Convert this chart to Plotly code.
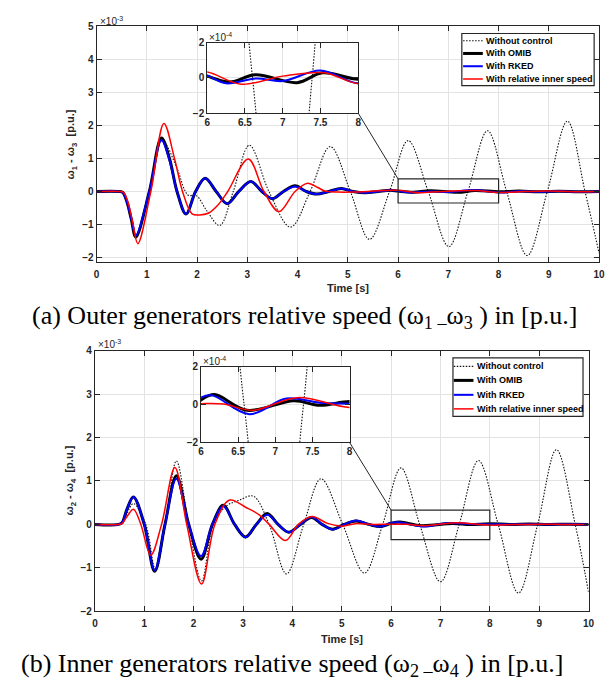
import plotly.graph_objects as go

W, H = 610, 691

# ---------------- (a) omega1 - omega3, values in 1e-3 p.u. ----------------
ta_nc = [0, 0.45, 0.52, 0.6, 0.69, 0.78, 1.04, 1.3, 1.6, 1.75, 1.83, 1.98, 2.2, 2.45, 2.72, 3.04, 3.43, 3.86,
         4.25, 4.65, 5.05, 5.43, 5.83, 6.2, 6.6, 7.01, 7.39, 7.78, 8.16, 8.57, 8.97, 9.37, 9.72, 10]
ya_nc = [0, 0, -0.03, -0.3, -0.82, -1.36, 0, 1.55, 0.7, 0.05, -0.12, -0.12, -0.6, -1.03, 0, 1.40, 0, -1.08,
         0, 1.36, 0, -1.45, 0, 1.54, 0, -1.67, 0, 1.84, 0, -1.94, 0, 2.13, 0, -1.87]

ta_omib = [0, 0.45, 0.52, 0.6, 0.69, 0.78, 1.05, 1.29, 1.45, 1.6, 1.78, 1.97, 2.16, 2.38, 2.6, 2.83, 3.07, 3.29,
           3.5, 3.72, 3.95, 4.17, 4.38, 4.62, 4.87, 5.1, 5.35, 5.6, 5.85, 6.0, 6.3, 6.64, 7.19, 7.53, 8.0, 8.4,
           8.8, 9.2, 9.6, 10]
ya_omib = [0, 0, -0.03, -0.3, -0.84, -1.38, 0, 1.62, 1.0, 0, -0.68, 0, 0.40, 0, -0.37, 0, 0.30, 0,
           -0.22, 0, 0.17, 0, -0.08, 0, 0.09, 0, -0.04, 0, 0.035, 0.01, -0.023, 0.018, -0.027, 0.029, -0.008, 0.012,
           -0.01, 0.008, -0.005, 0]

ta_rked = [0, 0.45, 0.52, 0.6, 0.69, 0.78, 1.05, 1.29, 1.45, 1.6, 1.78, 1.97, 2.16, 2.38, 2.6, 2.83, 3.07, 3.29,
           3.5, 3.72, 3.95, 4.17, 4.38, 4.62, 4.87, 5.1, 5.35, 5.6, 5.85, 6.0, 6.25, 6.65, 7.0, 7.5, 8.0, 8.4,
           8.8, 9.2, 9.6, 10]
ya_rked = [0, 0, -0.03, -0.3, -0.82, -1.33, 0, 1.55, 0.95, 0, -0.68, 0, 0.40, 0, -0.37, 0, 0.30, 0,
           -0.22, 0, 0.15, 0, -0.08, 0, 0.09, 0, -0.04, 0, 0.04, 0.014, -0.031, -0.003, -0.018, 0.042, -0.031, 0.005,
           -0.01, 0.008, -0.005, 0]

ta_rel = [0, 0.47, 0.54, 0.63, 0.72, 0.82, 1.08, 1.34, 1.55, 1.71, 1.9, 2.05, 2.22, 2.42, 2.61, 3.02, 3.33, 3.63,
          3.95, 4.2, 4.4, 4.55, 4.8, 5.1, 5.4, 5.7, 6.0, 6.45, 7.0, 7.55, 8.0, 8.4, 8.8, 9.2, 9.6, 10]
ya_rel = [0, 0, -0.03, -0.35, -0.95, -1.58, 0, 2.06, 1.0, 0, -0.68, -0.71, -0.66, -0.4, 0, 0.98, 0, -0.61,
          0, 0.25, 0.12, 0.01, -0.02, -0.02, 0.0, 0.03, 0.033, -0.036, 0.01, 0.029, -0.033, -0.01, 0.01, 0.01, -0.005, 0]

# ---------------- (b) omega2 - omega4, values in 1e-3 p.u. ----------------
tb_nc = [0, 0.48, 0.55, 0.65, 0.78, 1.03, 1.23, 1.43, 1.65, 1.9, 2.16, 2.4, 2.66, 2.93, 3.21, 3.53, 3.88, 4.23,
         4.58, 5.02, 5.46, 5.83, 6.2, 6.58, 7.0, 7.38, 7.77, 8.17, 8.58, 8.97, 9.35, 9.73, 10]
yb_nc = [0, 0, 0.03, 0.25, 0.48, 0, -1.05, 0, 1.46, 0, -1.30, 0, 0.42, 0.56, 0.65, 0, -1.14, 0,
         1.05, 0, -1.12, 0, 1.30, 0, -1.32, 0, 1.47, 0, -1.58, 0, 1.72, 0, -1.56]

tb_omib = [0, 0.48, 0.55, 0.65, 0.78, 1.0, 1.21, 1.42, 1.65, 1.9, 2.15, 2.38, 2.6, 2.83, 3.05, 3.27, 3.49, 3.71,
           3.93, 4.16, 4.39, 4.6, 4.82, 5.05, 5.29, 5.55, 5.79, 6.0, 6.18, 6.62, 7.25, 7.6, 8.0, 8.4, 8.8, 9.2,
           9.6, 10]
yb_omib = [0, 0, 0.04, 0.35, 0.63, 0, -1.08, 0, 1.12, 0, -0.80, 0, 0.44, 0, -0.29, 0, 0.25, 0,
           -0.18, 0, 0.16, 0, -0.11, 0, 0.08, 0, -0.05, 0.025, 0.053, -0.030, 0.021, -0.004, 0.016, 0.0, 0.008, 0.0,
           0.005, 0]

tb_rked = [0, 0.48, 0.55, 0.65, 0.78, 1.0, 1.21, 1.42, 1.65, 1.9, 2.15, 2.38, 2.6, 2.83, 3.05, 3.27, 3.49, 3.71,
           3.93, 4.16, 4.39, 4.6, 4.82, 5.05, 5.29, 5.55, 5.79, 6.0, 6.15, 6.65, 7.15, 7.6, 8.0, 8.4, 8.8, 9.2,
           9.6, 10]
yb_rked = [0, 0, 0.04, 0.35, 0.63, 0, -1.06, 0, 1.05, 0, -0.73, 0, 0.42, 0, -0.30, 0, 0.22, 0,
           -0.18, 0, 0.17, 0, -0.12, 0, 0.09, 0, -0.05, 0.037, 0.049, -0.051, 0.032, 0.01, 0.005, 0.0, 0.006, 0.0,
           0.004, 0]

tb_rel = [0, 0.48, 0.55, 0.65, 0.78, 0.93, 1.13, 1.35, 1.62, 1.86, 2.16, 2.43, 2.73, 3.06, 3.33, 3.53, 3.86, 4.12,
          4.4, 4.7, 5.0, 5.3, 5.6, 6.0, 6.3, 6.7, 7.3, 8.0, 8.5, 9.0, 9.5, 10]
yb_rel = [0, 0, 0.02, 0.18, 0.35, 0, -0.71, 0, 1.31, 0, -1.37, 0, 0.56, 0.39, 0.22, 0, -0.37, 0,
          0.18, 0.03, -0.04, 0.02, 0.0, 0.005, 0.003, -0.03, 0.037, -0.016, -0.005, 0.005, 0.0, 0]

series_names = ["Without control", "With OMIB", "With RKED", "With relative inner speed"]
x_ticks = [0, 1, 2, 3, 4, 5, 6, 7, 8, 9, 10]
inset_x_ticks = [6, 6.5, 7, 7.5, 8]
inset_x_labels = ["6", "6.5", "7", "7.5", "8"]

# ---------------- styling ----------------
styles = [
    dict(color="#111111", width=1.1, dash="1.5px,1.5px"),
    dict(color="#000000", width=3),
    dict(color="#0000ff", width=2),
    dict(color="#ff0000", width=1.5),
]
AXC = "#262626"
GRID = "#e3e3e3"
FONT = "Liberation Sans"


def px(x):
    return x / W


def py(y):
    return 1 - y / H


dom = {
    "a": dict(x=[px(95), px(605)], y=[py(261), py(20.7)]),
    "ai": dict(x=[px(207.3), px(360.5)], y=[py(109), py(37.3)]),
    "b": dict(x=[px(93.3), px(594.3)], y=[py(616), py(350.7)]),
    "bi": dict(x=[px(201), px(351.7)], y=[py(444), py(367.3)]),
}
yr_a = [-2.15, 5]
yr_b = [-2, 4]

fig = go.Figure()

data_a = [(ta_nc, ya_nc), (ta_omib, ya_omib), (ta_rked, ya_rked), (ta_rel, ya_rel)]
data_b = [(tb_nc, yb_nc), (tb_omib, yb_omib), (tb_rked, yb_rked), (tb_rel, yb_rel)]

for (t, y), st, nm in zip(data_a, styles, series_names):
    fig.add_trace(go.Scatter(x=t, y=y, mode="lines", line=dict(shape="spline", smoothing=1, **st),
                             name=nm, showlegend=False, xaxis="x", yaxis="y"))
for (t, y), st, nm in zip(data_b, styles, series_names):
    fig.add_trace(go.Scatter(x=t, y=y, mode="lines", line=dict(shape="spline", smoothing=1, **st),
                             name=nm, showlegend=False, xaxis="x2", yaxis="y2"))
for (t, y), st, nm in zip(data_a, styles, series_names):
    fig.add_trace(go.Scatter(x=t, y=[v * 10 for v in y], mode="lines",
                             line=dict(shape="spline", smoothing=1, **st),
                             name=nm, showlegend=False, xaxis="x3", yaxis="y3"))
for (t, y), st, nm in zip(data_b, styles, series_names):
    fig.add_trace(go.Scatter(x=t, y=[v * 10 for v in y], mode="lines",
                             line=dict(shape="spline", smoothing=1, **st),
                             name=nm, showlegend=False, xaxis="x4", yaxis="y4"))


def ax(domain, rng, tickvals, ticktext=None, anchor=None, standoff=None):
    d = dict(domain=domain, range=rng, tickvals=tickvals, showgrid=True, gridcolor=GRID, gridwidth=1,
             zeroline=False, showline=True, linecolor=AXC, linewidth=1, mirror="ticks", ticks="inside",
             ticklen=5, tickcolor=AXC, tickfont=dict(family=FONT, size=10, color=AXC, weight="bold"),
             anchor=anchor, fixedrange=True)
    if ticktext is not None:
        d["ticktext"] = ticktext
    if standoff is not None:
        d["ticklabelstandoff"] = standoff
    return d


fig.update_layout(
    xaxis=ax(dom["a"]["x"], [0, 10], x_ticks, anchor="y", standoff=3),
    yaxis=ax(dom["a"]["y"], yr_a, [-2, -1, 0, 1, 2, 3, 4, 5], anchor="x"),
    xaxis2=ax(dom["b"]["x"], [0, 10], x_ticks, anchor="y2", standoff=3),
    yaxis2=ax(dom["b"]["y"], yr_b, [-2, -1, 0, 1, 2, 3, 4], anchor="x2"),
    xaxis3=ax(dom["ai"]["x"], [6, 8], inset_x_ticks, inset_x_labels, anchor="y3"),
    yaxis3=ax(dom["ai"]["y"], [-2, 2], [-2, 0, 2], anchor="x3"),
    xaxis4=ax(dom["bi"]["x"], [6, 8], inset_x_ticks, inset_x_labels, anchor="y4"),
    yaxis4=ax(dom["bi"]["y"], [-2, 2], [-2, 0, 2], anchor="x4"),
)


def data_to_paper(d, yr, xv, yv):
    xd, yd = d["x"], d["y"]
    return (xd[0] + (xv - 0) / 10 * (xd[1] - xd[0]),
            yd[0] + (yv - yr[0]) / (yr[1] - yr[0]) * (yd[1] - yd[0]))


shapes = []
annotations = []

# zoom rectangles and connector lines
for key, ikey, xr, yr, ybox in [("a", "ai", "x", "y", (-0.35, 0.38)), ("b", "bi", "x2", "y2", (-0.35, 0.33))]:
    shapes.append(dict(type="rect", xref=xr, yref=yr, x0=6, x1=8, y0=ybox[0], y1=ybox[1],
                       line=dict(color=AXC, width=1.2), layer="above"))
    yrng = yr_a if key == "a" else yr_b
    cx, cy = data_to_paper(dom[key], yrng, 6, ybox[1])
    shapes.append(dict(type="line", xref="paper", yref="paper", x0=dom[ikey]["x"][1], y0=dom[ikey]["y"][0],
                       x1=cx, y1=cy, line=dict(color=AXC, width=1), layer="above"))

# manual legends
legend_specs = [
    dict(box=(465.7, 28, 600, 81), rows=[35.3, 48.3, 61.3, 74.3], lx=(467, 487), tx=488.5),
    dict(box=(456.7, 358, 588.7, 417.7), rows=[366.7, 381, 395.7, 410], lx=(457.5, 477.5), tx=479),
]
for spec in legend_specs:
    x0, y0, x1, y1 = spec["box"]
    shapes.append(dict(type="rect", xref="paper", yref="paper", x0=px(x0), x1=px(x1), y0=py(y1), y1=py(y0),
                       line=dict(color=AXC, width=1.2), fillcolor="white", layer="above"))
    for yy, st, nm in zip(spec["rows"], styles, series_names):
        shapes.append(dict(type="line", xref="paper", yref="paper", x0=px(spec["lx"][0]), x1=px(spec["lx"][1]),
                           y0=py(yy), y1=py(yy), line=dict(color=st["color"], width=st["width"],
                                                           dash=st.get("dash", "solid")), layer="above"))
        annotations.append(dict(xref="paper", yref="paper", x=px(spec["tx"]), y=py(yy), xanchor="left",
                                yanchor="middle", text=nm, showarrow=False,
                                font=dict(family=FONT, size=9, color="#000000", weight="bold")))

# exponent labels
for x, y, txt in [(96, 15, "×10<sup>-3</sup>"), (207, 32, "×10<sup>-4</sup>"),
                  (94, 344, "×10<sup>-3</sup>"), (201, 361, "×10<sup>-4</sup>")]:
    annotations.append(dict(xref="paper", yref="paper", x=px(x), y=py(y), xanchor="left", yanchor="middle",
                            text=txt, showarrow=False, font=dict(family=FONT, size=10, color=AXC)))

# axis titles
for x, y, txt in [(350, 287, "Time [s]"), (344, 644, "Time [s]")]:
    annotations.append(dict(xref="paper", yref="paper", x=px(x), y=py(y), xanchor="center", yanchor="middle",
                            text=txt, showarrow=False, font=dict(family=FONT, size=11, color=AXC, weight="bold")))
for x, y, txt in [(69, 141, "ω<sub>1</sub> - ω<sub>3</sub>  [p.u.]"), (68, 483, "ω<sub>2</sub> - ω<sub>4</sub>  [p.u.]")]:
    annotations.append(dict(xref="paper", yref="paper", x=px(x), y=py(y), xanchor="center", yanchor="middle",
                            text=txt, textangle=-90, showarrow=False,
                            font=dict(family=FONT, size=11, color=AXC, weight="bold")))

# captions
for x, y, txt in [(306, 316, "(a) Outer generators relative speed (ω<sub>1 –</sub>ω<sub>3</sub> ) in [p.u.]"),
                  (294, 671, "(b) Inner generators relative speed (ω<sub>2 –</sub>ω<sub>4</sub> ) in [p.u.]")]:
    annotations.append(dict(xref="paper", yref="paper", x=px(x), y=py(y), xanchor="center", yanchor="middle",
                            text=txt, showarrow=False, font=dict(family="Liberation Serif", size=26, color="#000000")))

fig.update_layout(
    width=W, height=H, margin=dict(l=0, r=0, t=0, b=0), autosize=False,
    paper_bgcolor="white", plot_bgcolor="white", showlegend=False,
    shapes=shapes, annotations=annotations,
)

fig.write_html("out.html")
